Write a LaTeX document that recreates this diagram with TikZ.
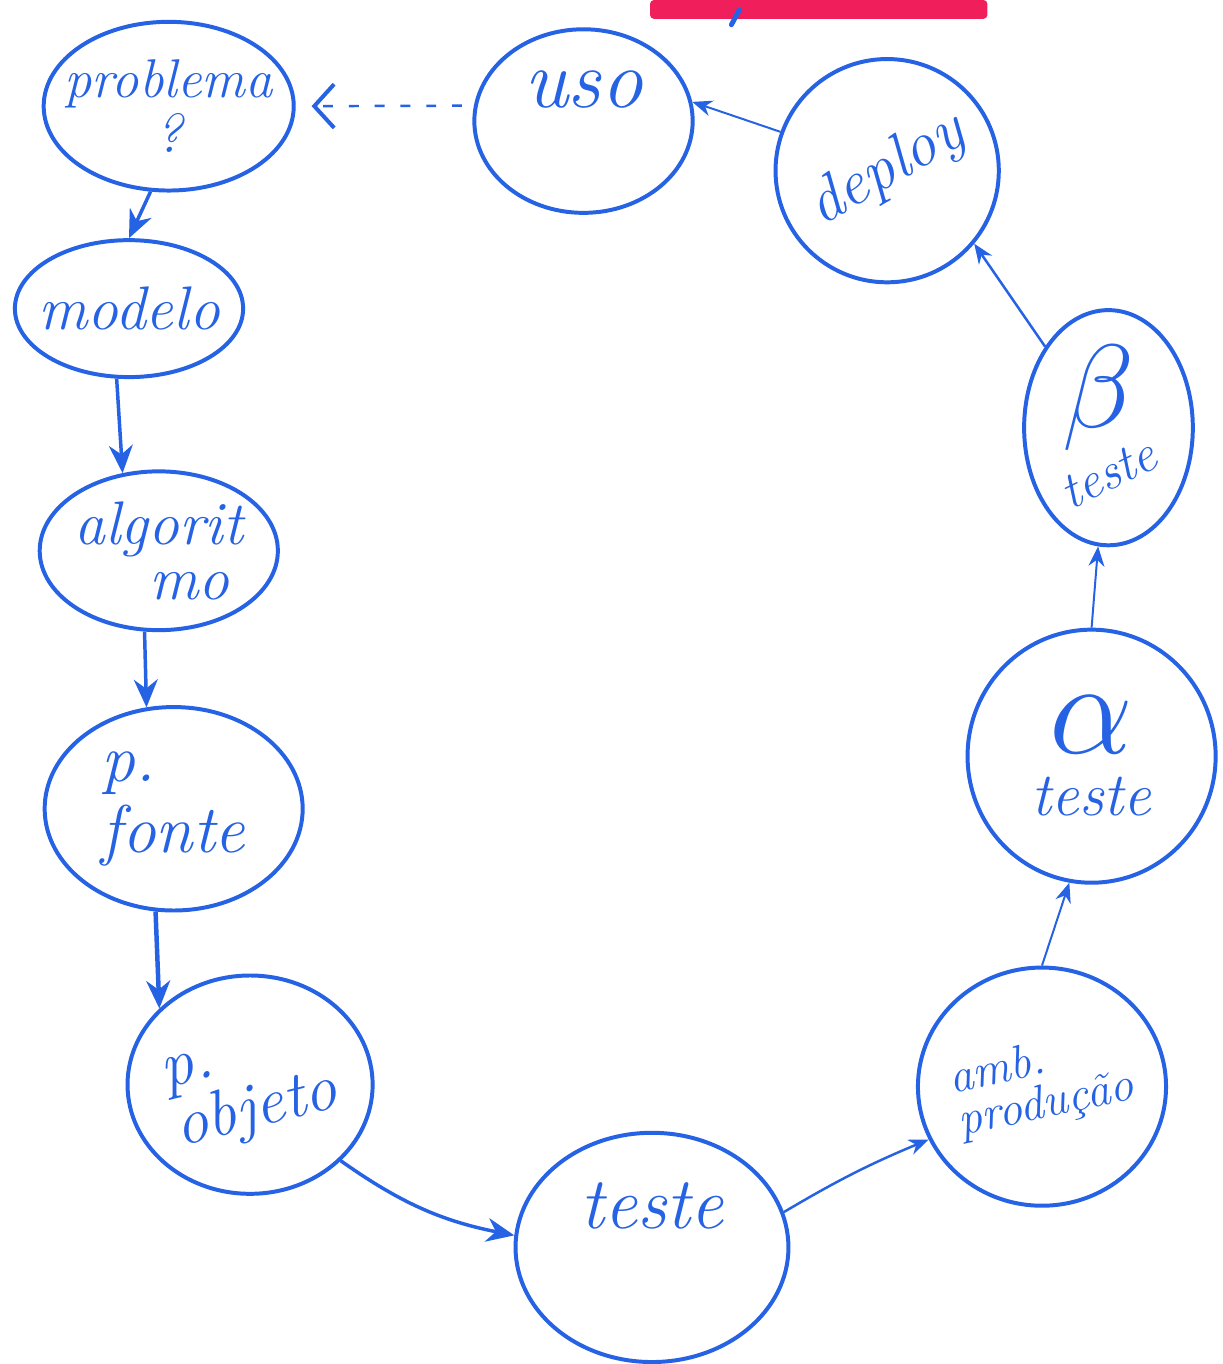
\documentclass[tikz,border=0pt]{standalone}
\usetikzlibrary{shapes.geometric,arrows.meta}
\definecolor{ink}{RGB}{38,98,228}
\definecolor{marker}{RGB}{240,30,90}
\begin{document}
\begin{tikzpicture}[x=1pt,y=-1pt,
  bubble/.style={ellipse,draw=ink,line width=4pt,text=ink,
    font=\fontsize{55}{60}\selectfont\itshape,align=center,inner sep=-60pt},
  sz/.style={font=\fontsize{#1}{#1}\selectfont\itshape},
  flow/.style={draw=ink,line width=3.5pt,-{Stealth[length=28pt,width=24pt]}},
  thinflow/.style={draw=ink,line width=2pt,-{Stealth[length=20pt,width=16pt]}},
  back/.style={draw=ink,line width=2.5pt,dash pattern=on 10pt off 16pt,
    -{Straight Barb[length=20pt,width=44pt,line width=4pt]}}]
\fill[white] (0,0) rectangle (1232,1364);
% partial marks at the top edge
\fill[marker,rounded corners=4pt] (655,-10) rectangle (995,9);
\draw[ink,line width=5pt,line cap=round] (745,0) -- (737,15);
% bubbles
\node[bubble,minimum width=252pt,minimum height=170pt] (prob) at (170,97) {problema\\[-4pt]?};
\node[bubble,sz=62,minimum width=230pt,minimum height=138pt] (modelo) at (130,301) {modelo};
\node[bubble,sz=62,minimum width=240pt,minimum height=160pt] (algo) at (160,545) {algorit\\[-6pt]\quad mo};
\node[bubble,sz=68,minimum width=260pt,minimum height=205pt,align=left] (fonte) at (175,805) {p.\\[4pt]fonte};
\node[bubble,sz=66,minimum width=247pt,minimum height=220pt] (objeto) at (252,1083)
  {\rotatebox{14}{\begin{tabular}{@{}l@{}}\textit{p.}\\[-6pt]objeto\end{tabular}}};
\node[bubble,sz=74,minimum width=275pt,minimum height=231pt] (teste) at (657,1247) {teste\\[10pt]\mbox{}};
\node[bubble,sz=48,minimum width=250pt,minimum height=240pt] (amb) at (1050,1085)
  {\rotatebox{12}{\begin{tabular}{@{}l@{}}amb.\\[-4pt]produção\end{tabular}}};
\node[bubble,sz=62,minimum width=250pt,minimum height=255pt] (alpha) at (1100,752)
  {\scalebox{5.4}{$\alpha$}\\[0pt]teste};
\node[bubble,sz=52,minimum width=170pt,minimum height=237pt] (beta) at (1117,421)
  {\hspace*{-20pt}\scalebox{4.8}{$\beta$}\\[-14pt]\rotatebox{26}{teste}};
\node[bubble,sz=64,minimum width=225pt,minimum height=225pt] (deploy) at (894,162) {\rotatebox{30}{deploy}};
\node[bubble,sz=84,minimum width=220pt,minimum height=185pt] (uso) at (588,112) {uso\\[-20pt]\mbox{}};
% connectors
\draw[flow] (prob.-102) -- (modelo.north);
\draw[flow] (modelo.-100) -- (algo.115);
\draw[flow] (algo.-100) -- (fonte.105);
\draw[flow,line width=4.5pt] (fonte.-100) -- (objeto.140);
\draw[flow] (objeto.-40) to[bend right=12] (teste.175);
\draw[thinflow,line width=2.5pt] (teste.15) to[bend left=4] (amb.-155);
\draw[thinflow] (amb.north) -- (alpha.-100);
\draw[thinflow] (alpha.north) -- (beta.-95);
\draw[thinflow,line width=2.5pt] (beta.128) -- (deploy.-40);
\draw[thinflow] (deploy.160) -- (uso.10);
\draw[back,shorten <=12pt,shorten >=16pt] (uso.172) -- (prob.east);
\end{tikzpicture}
\end{document}
